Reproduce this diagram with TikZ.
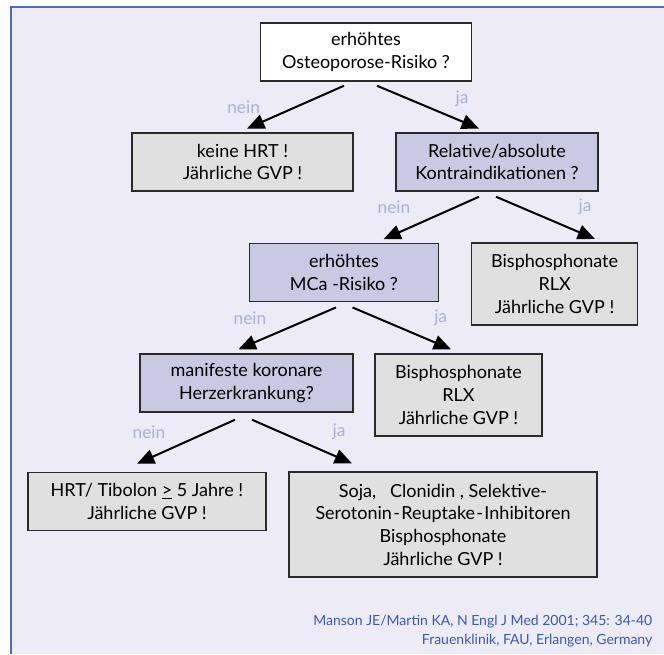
\documentclass[tikz,border=0pt]{standalone}
\usepackage{fontspec}
\setmainfont{Lato}
\usepackage{tikz}
\usetikzlibrary{calc,arrows.meta}
\definecolor{bg}{HTML}{EDEBF5}
\definecolor{rim}{HTML}{4D6DB5}
\definecolor{edge}{HTML}{2A2A2A}
\definecolor{boxgray}{HTML}{E0E0E0}
\definecolor{boxlav}{HTML}{C9C9E3}
\definecolor{ynblue}{HTML}{A9AEDA}
\definecolor{srcblue}{HTML}{3A5AA8}
\tikzset{
  box/.style={draw=edge, line width=1.1pt, align=center, inner sep=2pt, font=\fontsize{13.5}{17}\selectfont},
  top/.style={box, fill=white},
  ask/.style={box, fill=boxlav},
  ans/.style={box, fill=boxgray},
  arr/.style={draw=black, line width=1.5pt, -{Triangle[length=13pt,width=11pt]}},
  yn/.style={text=ynblue, font=\fontsize{13}{15}\selectfont},
  src/.style={text=srcblue, font=\fontsize{10.5}{14.25}\selectfont, align=right, anchor=east},
}
\begin{document}
\begin{tikzpicture}[x=0.75pt,y=-0.75pt]
  \useasboundingbox (0,0) rectangle (664,654);
  \fill[white] (0,0) rectangle (664,654);
  \fill[bg] (11,7) rectangle (664,654);
  \draw[rim, line width=1.5pt] (11,654) -- (11,7) -- (664,7);

  % questions and answers
  \node[top, minimum width=158pt, minimum height=43.5pt] (q1) at (366,52) {erhöhtes\\Osteoporose-Risiko ?};
  \node[ans, minimum width=165.75pt, minimum height=43.5pt] (r1) at (242.5,162) {keine HRT !\\Jährliche GVP !};
  \node[ask, minimum width=151.5pt, minimum height=43.5pt] (q2) at (497,162) {Relative/absolute\\Kontraindikationen ?};
  \node[ask, minimum width=141.5pt, minimum height=43.8pt] (q3) at (344,272.5) {erhöhtes\\MCa -Risiko ?};
  \node[ans, minimum width=124.5pt, minimum height=61.5pt] (r2) at (554.6,284) {Bisphosphonate\\RLX\\Jährliche GVP !};
  \node[ask, minimum width=159.75pt, minimum height=43.5pt] (q4) at (246.5,383) {manifeste koronare\\Herzerkrankung?};
  \node[ans, minimum width=125.25pt, minimum height=61.5pt] (r3) at (458.5,395) {Bisphosphonate\\RLX\\Jährliche GVP !};
  \node[ans, minimum width=178.5pt, minimum height=43.5pt] (r4) at (147,501.5) {HRT/ Tibolon \underline{>} 5 Jahre !\\Jährliche GVP !};
  \node[ans, minimum width=231pt, minimum height=78.75pt] (r5) at (443,524.7) {Soja,\ \ \ Clonidin , Selektive-\\Serotonin\kern1pt-\kern1ptReuptake\kern1pt-\kern1ptInhibitoren\\Bisphosphonate\\Jährliche GVP !};

  % branches
  \draw[arr] ($(q1.south)+(-22,4)$) -- ($(r1.north)+(4.5,-3.7)$);
  \draw[arr] ($(q1.south)+(11,4)$) -- ($(q2.north)+(-18,-3.7)$);
  \draw[arr] ($(q2.south)+(-18,5)$) -- ($(q3.north)+(39.5,-3.3)$);
  \draw[arr] ($(q2.south)+(-1,5)$) -- ($(r2.north)+(40.4,-3.3)$);
  \draw[arr] ($(q3.south)+(-8,5)$) -- ($(q4.north)+(-8,-4)$);
  \draw[arr] ($(q3.south)+(8.5,5)$) -- ($(r3.north)+(-7.5,-4)$);
  \draw[arr] ($(q4.south)+(-11.5,7)$) -- ($(r4.north)+(-10,-8)$);
  \draw[arr] ($(q4.south)+(5.5,7)$) -- ($(r5.north)+(-91,-8)$);

  \node[yn] (n1) at (243.6,107) {nein};
  \node[yn] (j1) at (462,99) {ja};
  \node[yn] (n2) at (394,207) {nein};
  \node[yn] (j2) at (585,207) {ja};
  \node[yn] (n3) at (250,318) {nein};
  \node[yn] (j3) at (440.7,318) {ja};
  \node[yn] (n4) at (149,432) {nein};
  \node[yn] (j4) at (339,432) {ja};

  \node[src] (ref) at (657,631.5) {Manson JE/Martin KA, N Engl J Med 2001; 345: 34-40\\Frauenklinik, FAU, Erlangen, Germany};
\end{tikzpicture}
\end{document}
